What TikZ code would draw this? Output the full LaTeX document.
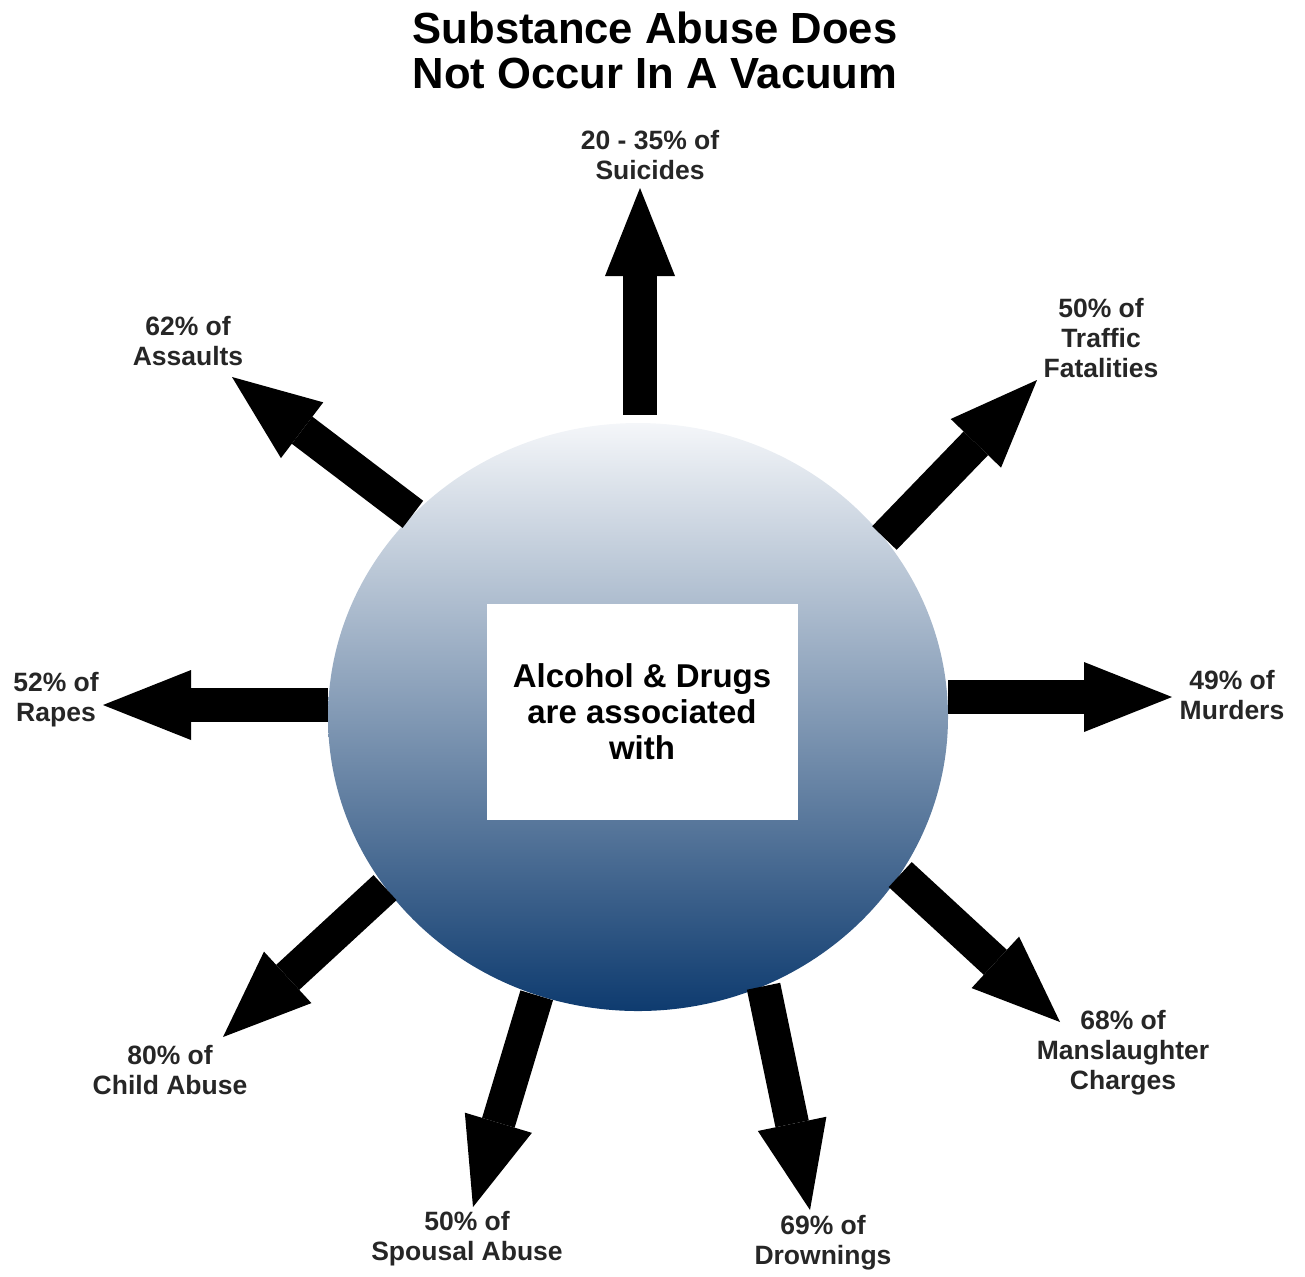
\documentclass[tikz,border=0pt]{standalone}
\usepackage{fontspec}
\setmainfont{Liberation Sans}
\usepackage{tikz}
\usetikzlibrary{shapes.geometric, arrows.meta, positioning}
\definecolor{hubtop}{HTML}{F4F6F9}
\definecolor{hubbot}{HTML}{0E3B6F}
\tikzstyle{hub} = [ellipse, minimum width=310pt, minimum height=294pt, inner sep=0pt, top color=hubtop, bottom color=hubbot]
\tikzstyle{centre} = [rectangle, minimum width=155.5pt, minimum height=108pt, fill=white, align=center, font=\fontsize{16.5pt}{18pt}\selectfont\bfseries]
\tikzstyle{stat} = [align=center, text=black!85, font=\fontsize{13.25pt}{15pt}\selectfont\bfseries]
\tikzstyle{arrow} = [line width=17pt, -{Triangle[width=35pt, length=44pt, line width=0pt]}]

\begin{document}
\begin{tikzpicture}[x=0.5pt, y=-0.5pt]
        \useasboundingbox (0,0) rectangle (1305,1276);
        \node (title) [align=center, font=\fontsize{21.8pt}{22.5pt}\selectfont\bfseries] at (655,50) {Substance Abuse Does\\Not Occur In A Vacuum};

        \node (hub) [hub] at (638,717) {};
        \node (box) [centre] at (642,712) {Alcohol \& Drugs\\are associated\\with};

        \node (suicides) [stat] at (650,155) {20 - 35\% of\\Suicides};
        \node (traffic) [stat] at (1101,338) {50\% of\\Traffic\\Fatalities};
        \node (murders) [stat] at (1232,695) {49\% of\\Murders};
        \node (mansl) [stat] at (1123,1053) {68\% of\\Manslaughter\\Charges};
        \node (drown) [stat] at (823,1243) {69\% of\\Drownings};
        \node (spousal) [stat] at (467,1239) {50\% of\\Spousal Abuse};
        \node (child) [stat] at (170,1070) {80\% of\\Child Abuse};
        \node (rapes) [stat] at (56,700) {52\% of\\Rapes};
        \node (assaults) [stat] at (188,341) {62\% of\\Assaults};

        \coordinate (tipsuicides) at (640,188);
        \coordinate (tiptraffic) at (1037,380);
        \coordinate (tipmurders) at (1172,697);
        \coordinate (tipmansl) at (1060,1022);
        \coordinate (tipdrown) at (810,1210);
        \coordinate (tipspousal) at (473,1207);
        \coordinate (tipchild) at (223,1037);
        \coordinate (tiprapes) at (103,705);
        \coordinate (tipassaults) at (232,377);

        \draw [arrow] ([yshift=4pt]tipsuicides |- hub.north) -- (tipsuicides);
        \draw [arrow] (hub.36.9) -- (tiptraffic);
        \draw [arrow] (tipmurders -| hub.east) -- (tipmurders);
        \draw [arrow] (hub.-31.6) -- (tipmansl);
        \draw [arrow] (hub.-65.7) -- (tipdrown);
        \draw [arrow] (hub.-110) -- (tipspousal);
        \draw [arrow] (hub.214.4) -- (tipchild);
        \draw [arrow] (tiprapes -| hub.west) -- (tiprapes);
        \draw [arrow] (hub.138.2) -- (tipassaults);
    \end{tikzpicture}
\end{document}
